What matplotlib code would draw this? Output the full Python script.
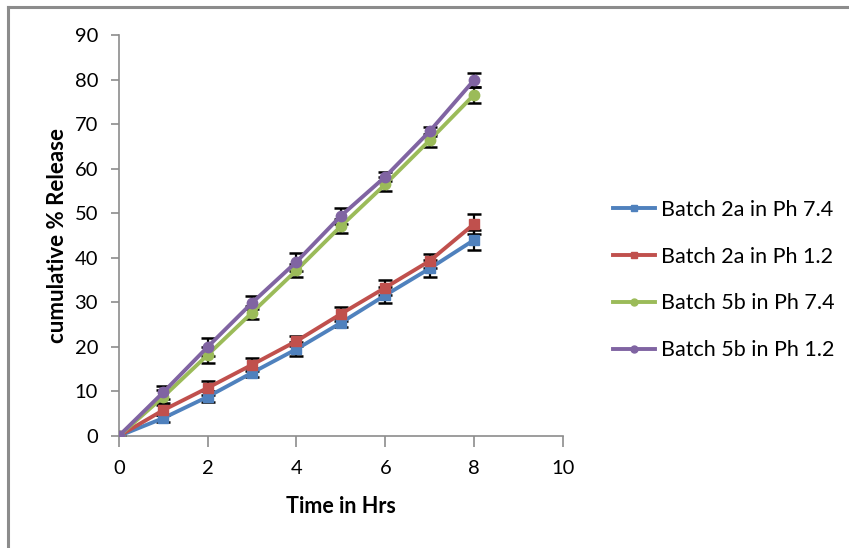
import matplotlib.pyplot as plt
from matplotlib.lines import Line2D

plt.rcParams['font.family'] = ['Lato', 'DejaVu Sans']

hours = [0, 1, 2, 3, 4, 5, 6, 7, 8]

batch2a_ph74 = [0, 4.0, 8.8, 14.2, 19.5, 25.4, 31.6, 37.6, 44.0]
batch2a_ph12 = [0, 5.8, 10.8, 16.0, 21.3, 27.4, 33.3, 39.3, 47.6]
batch5b_ph74 = [0, 8.8, 18.2, 27.7, 37.2, 47.1, 56.5, 66.4, 76.6]
batch5b_ph12 = [0, 9.8, 20.0, 29.9, 39.1, 49.4, 58.2, 68.4, 79.9]

err2a_ph74 = [0, 0.8, 1.2, 1.0, 1.5, 1.0, 1.8, 1.8, 2.2]
err2a_ph12 = [0, 1.2, 1.6, 1.5, 1.2, 1.6, 1.7, 1.6, 2.3]
err5b_ph74 = [0, 1.5, 1.8, 1.5, 1.5, 1.5, 1.6, 1.5, 1.8]
err5b_ph12 = [0, 1.5, 2.0, 1.5, 2.0, 1.8, 1.0, 1.0, 1.5]

labels = ["Batch 2a in Ph 7.4", "Batch 2a in Ph 1.2",
          "Batch 5b in Ph 7.4", "Batch 5b in Ph 1.2"]
colors = ["#4F81BD", "#C0504D", "#9BBB59", "#8064A2"]
markers = ["s", "s", "o", "o"]

fig = plt.figure(figsize=(8.49, 5.48), dpi=100)
ax = fig.add_axes([0.140, 0.2044, 0.523, 0.7316])

series = [batch2a_ph74, batch2a_ph12, batch5b_ph74, batch5b_ph12]
errors = [err2a_ph74, err2a_ph12, err5b_ph74, err5b_ph12]

for vals, err, c, m in zip(series, errors, colors, markers):
    ax.errorbar(hours, vals, yerr=err, fmt='none', ecolor='black',
                elinewidth=1.6, capsize=5, capthick=1.8, zorder=2)
    ax.plot(hours, vals, color=c, marker=m, markersize=7.5, linewidth=2.8, zorder=3)

ax.set_xlim(0, 10)
ax.set_ylim(0, 90)
ax.set_xticks(range(0, 11, 2))
ax.set_yticks(range(0, 91, 10))
ax.spines['top'].set_visible(False)
ax.spines['right'].set_visible(False)
for s in ['left', 'bottom']:
    ax.spines[s].set_color('#8c8c8c')
    ax.spines[s].set_linewidth(1.2)
ax.tick_params(axis='both', colors='#8c8c8c', labelcolor='black', labelsize=14.5,
               direction='out', width=1.2)
ax.tick_params(axis='y', length=6, pad=9)
ax.tick_params(axis='x', length=8, pad=9)

ax.set_xlabel("Time in Hrs", fontsize=15.5, fontweight='bold')
ax.set_ylabel("cumulative % Release", fontsize=16, fontweight='bold')
ax.xaxis.set_label_coords(0.5, -0.177)
ax.yaxis.set_label_coords(-0.138, 0.5)
ax.xaxis.label.set_va('center')
ax.yaxis.label.set_va('center')

handles = [Line2D([], [], color=c, marker=m, markersize=5, linewidth=2.8)
           for c, m in zip(colors, markers)]
fig.legend(handles, labels, loc='center left', bbox_to_anchor=(0.722, 0.489),
           frameon=False, fontsize=15.5, handlelength=1.95, labelspacing=1.25,
           handletextpad=0.3, borderpad=0, borderaxespad=0)

# partial gray frame around the figure
fig.add_artist(Line2D([0.0095, 1.0], [0.9875, 0.9875], color='#8c8c8c', linewidth=2.2))
fig.add_artist(Line2D([0.0095, 0.0095], [0.0, 0.9875], color='#8c8c8c', linewidth=2.2))

fig.savefig("out.png", dpi=100)
